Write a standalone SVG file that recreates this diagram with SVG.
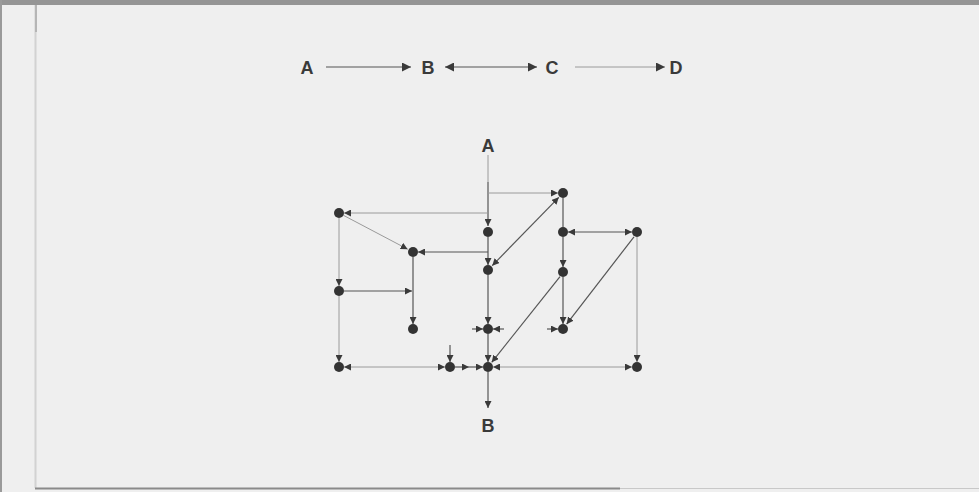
<svg xmlns="http://www.w3.org/2000/svg" width="979" height="492" viewBox="0 0 979 492">
<defs>
<style>
.lbl{font-family:"Liberation Sans",Arial,sans-serif;font-weight:bold;font-size:18px;fill:#3a3a3a;text-anchor:middle}
.e{stroke:#555;stroke-width:1.2;fill:none}
.f{stroke:#9a9a9a;stroke-width:1;fill:none}
.n{fill:#333}
</style>
<marker id="ah" viewBox="0 0 10 10" refX="10" refY="5" markerWidth="7" markerHeight="7" markerUnits="userSpaceOnUse" orient="auto-start-reverse">
<path d="M0,0 L10,5 L0,10 Z" fill="#3a3a3a"/>
</marker>
<marker id="ah2" viewBox="0 0 10 10" refX="10" refY="5" markerWidth="9" markerHeight="9" markerUnits="userSpaceOnUse" orient="auto-start-reverse">
<path d="M0,0 L10,5 L0,10 Z" fill="#3a3a3a"/>
</marker>
</defs>
<rect width="979" height="492" fill="#efefef"/>
<rect width="979" height="5" fill="#959595"/>
<rect width="2" height="492" fill="#9a9a9a"/>
<line x1="35.5" y1="5" x2="35.5" y2="488" stroke="#d2d2d2" stroke-width="2"/>
<line x1="36" y1="5" x2="36" y2="32" stroke="#b5b5b5" stroke-width="2"/>
<line x1="35" y1="488.5" x2="620" y2="488.5" stroke="#8a8a8a" stroke-width="2"/>
<line x1="620" y1="488.5" x2="979" y2="488.5" stroke="#c8c8c8" stroke-width="1"/>

<g id="top-row">
<text class="lbl" x="307" y="74">A</text>
<text class="lbl" x="428" y="74">B</text>
<text class="lbl" x="552" y="74">C</text>
<text class="lbl" x="676" y="74">D</text>
</g>

<g id="connectors">
<line class="e" x1="326" y1="67" x2="411" y2="67" marker-end="url(#ah2)"/>
<line class="e" x1="445" y1="67" x2="537" y2="67" marker-start="url(#ah2)" marker-end="url(#ah2)"/>
<line class="f" x1="575" y1="67" x2="665" y2="67" marker-end="url(#ah2)"/>

<line class="f" x1="488" y1="155" x2="488" y2="182"/>
<line class="e" x1="488" y1="182" x2="488" y2="226" marker-end="url(#ah)"/>
<line class="e" x1="488" y1="237" x2="488" y2="265" marker-end="url(#ah)"/>
<line class="e" x1="488" y1="275" x2="488" y2="324" marker-end="url(#ah)"/>
<line class="e" x1="488" y1="334" x2="488" y2="362" marker-end="url(#ah)"/>
<line class="e" x1="488" y1="372" x2="488" y2="408" marker-end="url(#ah)"/>

<line class="f" x1="488" y1="193" x2="558" y2="193" marker-end="url(#ah)"/>
<line class="f" x1="488" y1="213" x2="344" y2="213" marker-end="url(#ah)"/>
<line class="e" x1="488" y1="252" x2="418" y2="252" marker-end="url(#ah)"/>
<line class="f" x1="343.4" y1="215.3" x2="407.7" y2="249.2" marker-end="url(#ah)"/>
<line class="f" x1="339" y1="218" x2="339" y2="286" marker-end="url(#ah)"/>
<line class="f" x1="339" y1="296" x2="339" y2="362" marker-end="url(#ah)"/>
<line class="e" x1="344" y1="291" x2="412" y2="291" marker-end="url(#ah)"/>
<line class="e" x1="413" y1="257" x2="413" y2="324" marker-end="url(#ah)"/>

<line class="e" x1="492.2" y1="265.7" x2="558.8" y2="197.3" marker-start="url(#ah)" marker-end="url(#ah)"/>
<line class="e" x1="563" y1="198" x2="563" y2="227"/>
<line class="e" x1="568" y1="232" x2="632" y2="232" marker-start="url(#ah)" marker-end="url(#ah)"/>
<line class="e" x1="563" y1="237" x2="563" y2="267" marker-end="url(#ah)"/>
<line class="e" x1="563" y1="277" x2="563" y2="324" marker-end="url(#ah)"/>
<line class="e" x1="634" y1="236.8" x2="566.6" y2="324.2" marker-end="url(#ah)"/>
<line class="f" x1="637" y1="237" x2="637" y2="362" marker-end="url(#ah)"/>
<line class="e" x1="560" y1="276.7" x2="491.7" y2="362.3" marker-end="url(#ah)"/>

<line class="e" x1="472" y1="329" x2="483" y2="329" marker-end="url(#ah)"/>
<line class="e" x1="504" y1="329" x2="493" y2="329" marker-end="url(#ah)"/>
<line class="e" x1="547" y1="329" x2="558" y2="329" marker-end="url(#ah)"/>

<line class="f" x1="344" y1="367" x2="445" y2="367" marker-start="url(#ah)" marker-end="url(#ah)"/>
<line class="e" x1="450" y1="345" x2="450" y2="362" marker-end="url(#ah)"/>
<line class="e" x1="455" y1="367" x2="469" y2="367" marker-end="url(#ah)"/>
<line class="e" x1="469" y1="367" x2="483" y2="367" marker-end="url(#ah)"/>
<line class="f" x1="493" y1="367" x2="632" y2="367" marker-start="url(#ah)" marker-end="url(#ah)"/>
</g>

<g id="nodes">
<g id="lbl-A"><text class="lbl" x="488" y="152">A</text></g>
<g id="lbl-B"><text class="lbl" x="488" y="432">B</text></g>
<g id="n1"><circle class="n" cx="339" cy="213" r="5"/></g>
<g id="n2"><circle class="n" cx="413" cy="252" r="5"/></g>
<g id="n3"><circle class="n" cx="488" cy="232" r="5"/></g>
<g id="n4"><circle class="n" cx="488" cy="270" r="5"/></g>
<g id="n5"><circle class="n" cx="563" cy="193" r="5"/></g>
<g id="n6"><circle class="n" cx="563" cy="232" r="5"/></g>
<g id="n7"><circle class="n" cx="637" cy="232" r="5"/></g>
<g id="n8"><circle class="n" cx="563" cy="272" r="5"/></g>
<g id="n9"><circle class="n" cx="339" cy="291" r="5"/></g>
<g id="n10"><circle class="n" cx="413" cy="329" r="5"/></g>
<g id="n11"><circle class="n" cx="488" cy="329" r="5"/></g>
<g id="n12"><circle class="n" cx="563" cy="329" r="5"/></g>
<g id="n13"><circle class="n" cx="339" cy="367" r="5"/></g>
<g id="n14"><circle class="n" cx="450" cy="367" r="5"/></g>
<g id="n15"><circle class="n" cx="488" cy="367" r="5"/></g>
<g id="n16"><circle class="n" cx="637" cy="367" r="5"/></g>
</g>
</svg>
